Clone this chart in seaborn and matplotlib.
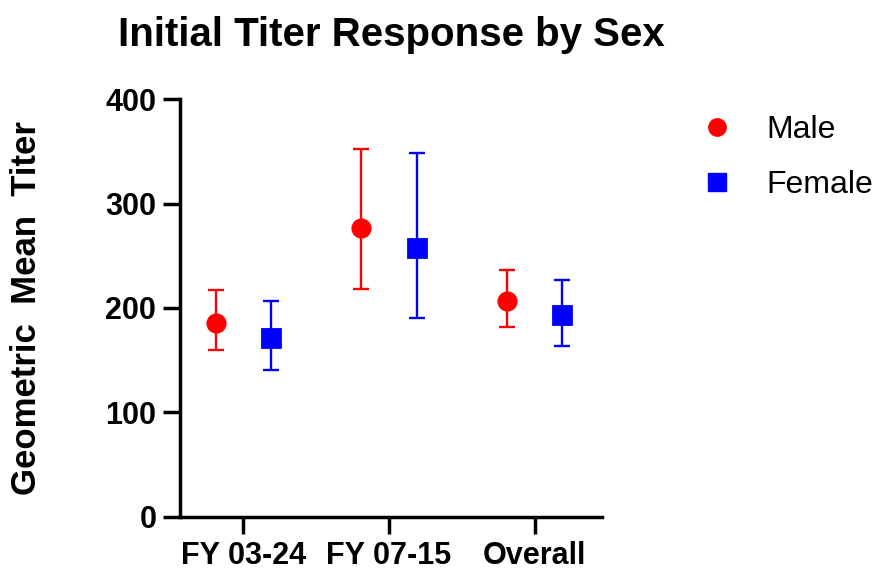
import numpy as np
import pandas as pd
import matplotlib
matplotlib.use("Agg")
import matplotlib.pyplot as plt
from matplotlib.lines import Line2D
import seaborn as sns

# valores
periodos = ["FY 03-24", "FY 07-15", "Overall"]
sexos = ["Male", "Female"]
media_male = [186, 277, 207]
inf_male = [160, 218, 182]
sup_male = [217, 352, 236]
media_female = [171, 257, 193]
inf_female = [141, 190, 164]
sup_female = [207, 348, 227]
cores = {"Male": "#ff0000", "Female": "#0000ff"}
marcadores = {"Male": "o", "Female": "s"}

df = pd.DataFrame({
    "periodo": periodos * 2,
    "sexo": ["Male"] * 3 + ["Female"] * 3,
    "media": media_male + media_female,
    "inf": inf_male + inf_female,
    "sup": sup_male + sup_female,
})

sns.set_style("ticks")
plt.rcParams["font.family"] = ["Liberation Sans", "DejaVu Sans"]
plt.rcParams["text.color"] = "black"
plt.rcParams["axes.labelcolor"] = "black"
plt.rcParams["xtick.color"] = "black"
plt.rcParams["ytick.color"] = "black"
plt.rcParams["axes.edgecolor"] = "black"

fig = plt.figure(figsize=(8.8, 5.69), dpi=100)
ax = fig.add_axes([0.2045, 0.0914, 0.4795, 0.7346])

dodge = 0.38
sns.pointplot(data=df, x="periodo", y="media", hue="sexo", hue_order=sexos,
              order=periodos, palette=cores, markers=["o", "s"],
              linestyles="none", dodge=dodge, errorbar=None,
              markersize=12.5, legend=False, ax=ax)

# barras de erro (intervalo)
for i, sexo in enumerate(sexos):
    sub = df[df["sexo"] == sexo]
    pos = np.arange(len(periodos)) - dodge / 2 + dodge * i
    ax.errorbar(pos, sub["media"], yerr=[sub["media"] - sub["inf"], sub["sup"] - sub["media"]],
                fmt="none", ecolor=cores[sexo], elinewidth=1.7, capsize=6, capthick=1.7, zorder=1)

ax.set_xlim(-0.435, 2.463)
ax.set_ylim(0, 400)
ax.set_yticks([0, 100, 200, 300, 400])
sns.despine(ax=ax)
for s in ["left", "bottom"]:
    ax.spines[s].set_linewidth(2.5)
ax.tick_params(axis="both", direction="out", length=12, width=2.5, pad=5)
for lab in ax.get_xticklabels() + ax.get_yticklabels():
    lab.set_fontsize(22)
    lab.set_fontweight("bold")
ax.tick_params(axis="x", pad=5)

ax.set_xlabel("")
ax.set_ylabel("Geometric  Mean  Titer", fontsize=25, fontweight="bold")
ax.yaxis.set_label_coords(-0.325, 0.5)
ax.set_title("Initial Titer Response by Sex", fontsize=29, fontweight="bold", pad=38)

handles = [Line2D([], [], color=cores[s], marker=marcadores[s], linestyle="none",
                  markersize=12.5) for s in sexos]
fig.legend(handles, sexos, loc="center left", bbox_to_anchor=(0.746, 0.723),
           frameon=False, fontsize=23, handletextpad=0.55, labelspacing=0.8)

plt.savefig("out.png", dpi=100)
